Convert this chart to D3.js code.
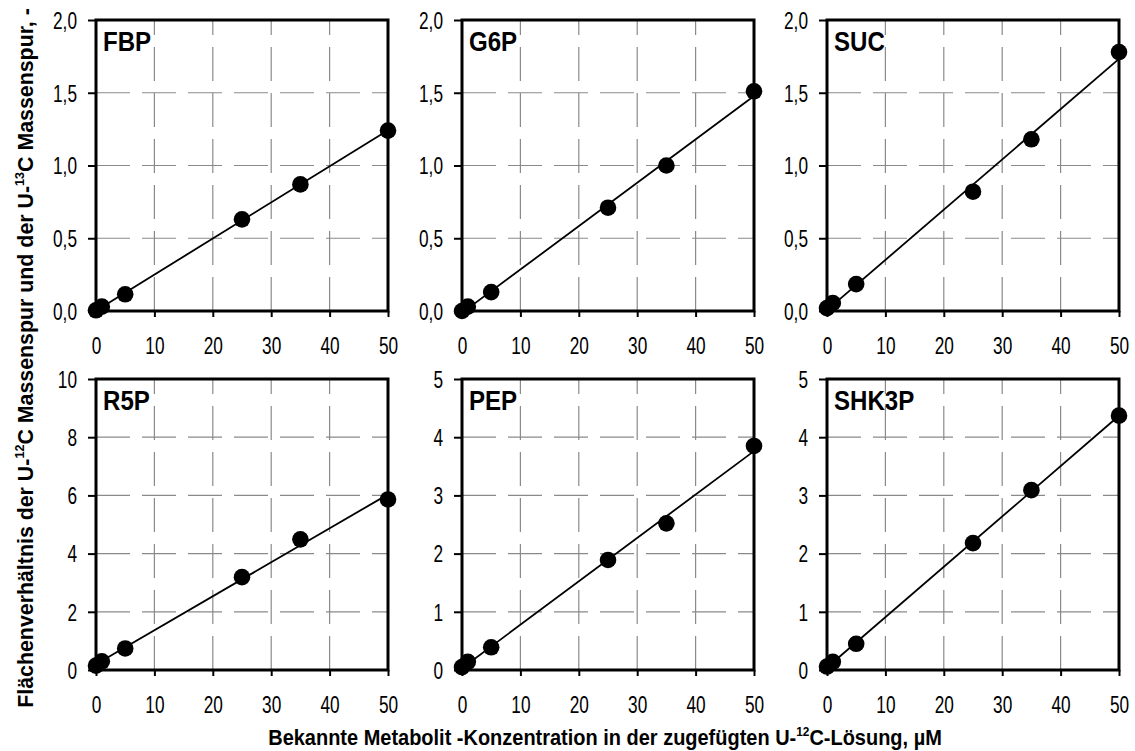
<!DOCTYPE html>
<html><head><meta charset="utf-8">
<script src="https://cdn.jsdelivr.net/npm/d3@7"></script>
<style>body{margin:0;background:#fff}svg{display:block}</style>
</head><body>
<script>
// ---- data ----
const concentrations = [0, 1, 5, 25, 35, 50];
const panelNames = ["FBP", "G6P", "SUC", "R5P", "PEP", "SHK3P"];
const fbpValues   = [0.005, 0.03, 0.115, 0.63, 0.87, 1.24];
const g6pValues   = [0.0, 0.03, 0.13, 0.71, 1.0, 1.51];
const sucValues   = [0.02, 0.055, 0.185, 0.82, 1.18, 1.78];
const r5pValues   = [0.15, 0.3, 0.74, 3.19, 4.49, 5.86];
const pepValues   = [0.05, 0.14, 0.39, 1.89, 2.52, 3.85];
const shk3pValues = [0.06, 0.14, 0.45, 2.18, 3.09, 4.37];
const xTickValues = [0, 10, 20, 30, 40, 50];
const yTicksTop = [0, 0.5, 1.0, 1.5, 2.0];
const yTicksR5P = [0, 2, 4, 6, 8, 10];
const yTicks5 = [0, 1, 2, 3, 4, 5];
const xTitleParts = ["Bekannte Metabolit -Konzentration in der zugefügten U-", "12", "C-Lösung, µM"];
const yTitleParts = ["Flächenverhältnis der U-", "12", "C Massenspur und der U-", "13", "C Massenspur, -"];

const seriesValues = [fbpValues, g6pValues, sucValues, r5pValues, pepValues, shk3pValues];
const yTickSets = [yTicksTop, yTicksTop, yTicksTop, yTicksR5P, yTicks5, yTicks5];

// ---- layout ----
const W = 1135, H = 751;
const colLeft = [96, 462, 827];
const rowTop = [20, 379];
const pw = 292, ph = 291;
const FONT = "'Liberation Sans',Arial,sans-serif";
const SX = 0.75;   // horizontal squeeze for narrow tick labels

const svg = d3.select("body").append("svg").attr("width", W).attr("height", H)
  .style("font-family", FONT);

function fit(xs, ys) {
  const n = xs.length, mx = d3.mean(xs), my = d3.mean(ys);
  let sxy = 0, sxx = 0;
  for (let i = 0; i < n; i++) { sxy += (xs[i]-mx)*(ys[i]-my); sxx += (xs[i]-mx)**2; }
  const b = sxy / sxx; return {a: my - b*mx, b};
}

panelNames.forEach((name, i) => {
  const col = i % 3, row = Math.floor(i / 3);
  const x0 = colLeft[col], y0 = rowTop[row];
  const ticks = yTickSets[i];
  const x = d3.scaleLinear().domain([0, 50]).range([0, pw]);
  const y = d3.scaleLinear().domain([0, d3.max(ticks)]).range([ph, 0]);
  const g = svg.append("g").attr("transform", `translate(${x0},${y0})`);
  const fmt = row === 0 ? (v => d3.format(".1f")(v).replace(".", ",")) : d3.format("d");

  // grid
  g.append("g").selectAll("line").data(ticks.filter(t => t > 0)).join("line")
    .attr("x1", 0).attr("x2", pw).attr("y1", d => y(d)).attr("y2", d => y(d))
    .attr("stroke", "#8a8a8a").attr("stroke-width", 1.2).attr("stroke-dasharray", "34,12");
  g.append("g").selectAll("line").data(xTickValues.filter(t => t > 0 && t < 50)).join("line")
    .attr("x1", d => x(d)).attr("x2", d => x(d)).attr("y1", ph).attr("y2", 0)
    .attr("stroke", "#8a8a8a").attr("stroke-width", 1.2).attr("stroke-dasharray", "34,12");

  // axes
  const ya = g.append("g").call(d3.axisLeft(y).tickValues(ticks).tickFormat(fmt).tickSize(8).tickPadding(10));
  const xa = g.append("g").attr("transform", `translate(0,${ph})`)
    .call(d3.axisBottom(x).tickValues(xTickValues).tickSize(6).tickPadding(0));
  [ya, xa].forEach(a => {
    a.select(".domain").remove();
    a.selectAll(".tick line").attr("stroke", "#000").attr("stroke-width", 2);
    a.selectAll(".tick text").attr("fill", "#000").style("font-size", "23px").style("font-family", FONT)
      .attr("transform", `scale(${SX},1)`);
  });
  ya.selectAll(".tick text").attr("x", -19 / SX).attr("dy", "0.36em");
  xa.selectAll(".tick text").attr("y", 43).attr("dy", 0);

  // frame
  g.append("rect").attr("x", 0).attr("y", 0).attr("width", pw).attr("height", ph)
    .attr("fill", "none").attr("stroke", "#000").attr("stroke-width", 3);

  // regression line
  const vals = seriesValues[i];
  const f = fit(concentrations, vals);
  g.append("line")
    .attr("x1", x(0)).attr("y1", y(f.a)).attr("x2", x(50)).attr("y2", y(f.a + f.b*50))
    .attr("stroke", "#000").attr("stroke-width", 1.8);

  // points
  g.append("g").selectAll("circle").data(concentrations.map((c, k) => [c, vals[k]])).join("circle")
    .attr("cx", d => x(d[0])).attr("cy", d => y(d[1])).attr("r", 8.3).attr("fill", "#000");

  // title
  g.append("text").attr("transform", "translate(7,31) scale(0.86,1)").text(name)
    .style("font-size", "28px").style("font-weight", "bold").attr("fill", "#000");
});

function titleText(parent, parts, size) {
  const t = parent.append("text").attr("text-anchor", "middle")
    .style("font-size", size + "px").style("font-weight", "bold").attr("fill", "#000");
  parts.forEach((p, k) => {
    const sup = k % 2 === 1;
    t.append("tspan").attr("dy", sup ? -9 : (k > 0 ? 9 : 0))
      .style("font-size", sup ? "13px" : size + "px").text(p);
  });
  return t;
}

// x title
const xg = svg.append("g");
const xt = titleText(xg, xTitleParts, 22);
const xl = xt.node().getComputedTextLength();
xg.attr("transform", `translate(605,745) scale(${674 / xl},1)`);

// y title
const yg = svg.append("g");
const yt = titleText(yg, yTitleParts, 22);
const yl = yt.node().getComputedTextLength();
yg.attr("transform", `translate(33,358) rotate(-90) scale(${700 / yl},1)`);
</script>
</body></html>
